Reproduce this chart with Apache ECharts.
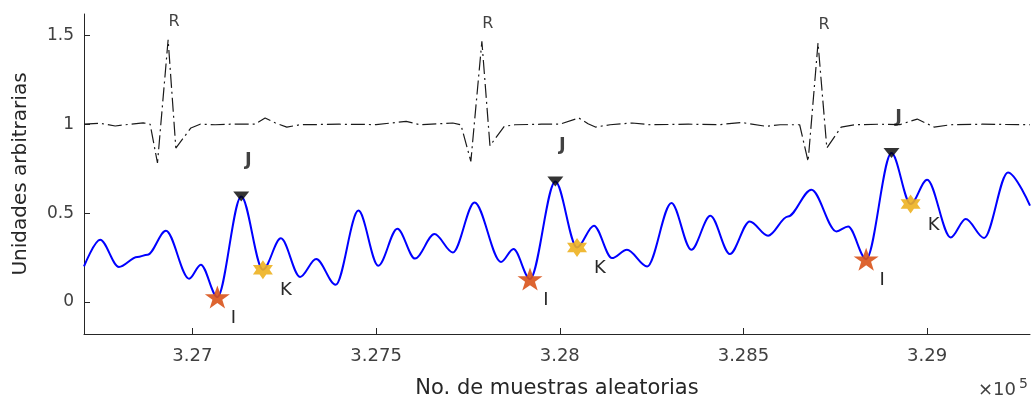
<!DOCTYPE html>
<html>
<head>
<meta charset="utf-8">
<style>
  html, body { margin: 0; padding: 0; background: #fff; }
  #chart { width: 1034px; height: 401px; }
</style>
<script src="https://cdn.jsdelivr.net/npm/echarts@6/dist/echarts.min.js"></script>
</head>
<body>
<div id="chart"></div>
<script>
(function(){
  'use strict';

  // ECG trace (dash-dot), sample index / arbitrary units
  var ecgX = [326705, 326749, 326790, 326830, 326866, 326885, 326905, 326934, 326955, 326996,
              327021, 327062, 327103, 327143, 327170, 327198, 327225, 327257, 327293, 327400,
              327500, 327582, 327620, 327709, 327731, 327758, 327788, 327810, 327849, 327878,
              327950, 328000, 328052, 328077, 328097, 328137, 328197, 328247, 328350, 328436,
              328494, 328562, 328600, 328653, 328676, 328703, 328727, 328766, 328804, 328870,
              328926, 328973, 329019, 329064, 329150, 329280];
  var ecgY = [1.0, 1.005, 0.99, 1.0, 1.008, 1.0, 0.782, 1.475, 0.866, 0.979,
              1.0, 0.997, 1.0, 1.0, 1.0, 1.035, 1.008, 0.984, 0.997, 1.0,
              0.998, 1.016, 0.997, 1.007, 0.997, 0.791, 1.466, 0.879, 0.988, 0.997,
              1.0, 1.0, 1.035, 1.003, 0.984, 0.997, 1.007, 0.997, 1.0, 0.998,
              1.010, 0.988, 0.997, 0.997, 0.791, 1.457, 0.866, 0.984, 0.997, 1.0,
              0.998, 1.029, 0.984, 0.997, 1.0, 0.997];

  // blue trace, turning points
  var bcgX = [326705, 326749, 326800, 326850, 326878, 326928, 326991, 327023, 327068, 327133,
              327192, 327241, 327293, 327337, 327390, 327452, 327506, 327558, 327606, 327659,
              327709, 327768, 327840, 327874, 327919, 327988, 328047, 328093, 328142, 328183,
              328238, 328304, 328358, 328410, 328463, 328517, 328567, 328621, 328685, 328753,
              328785, 328834, 328903, 328955, 329000, 329064, 329105, 329155, 329220, 329280];
  var bcgY = [0.200, 0.350, 0.197, 0.253, 0.266, 0.401, 0.131, 0.210, 0.028, 0.594,
              0.182, 0.358, 0.141, 0.242, 0.097, 0.514, 0.204, 0.412, 0.244, 0.382,
              0.279, 0.560, 0.225, 0.298, 0.129, 0.678, 0.307, 0.429, 0.247, 0.294,
              0.200, 0.557, 0.294, 0.485, 0.270, 0.453, 0.373, 0.481, 0.632, 0.397,
              0.425, 0.241, 0.838, 0.551, 0.688, 0.363, 0.467, 0.360, 0.729, 0.542];

  var iX = [327068, 327919, 328834], iY = [0.028, 0.129, 0.241];
  var jX = [327133, 327988, 328903], jY = [0.594, 0.678, 0.838];
  var kX = [327192, 328047, 328955], kY = [0.182, 0.307, 0.551];
  var rX = [326934, 327788, 328703], rY = [1.475, 1.466, 1.457];

  var xTicks = [327000, 327500, 328000, 328500, 329000];
  var yTicks = [0, 0.5, 1, 1.5];

  function pairs(xs, ys){ return xs.map(function(x, i){ return [x, ys[i]]; }); }

  var FONT = 'DejaVu Sans';
  var STAR5 = 'path://M50,0 L61.8,34.5 L97.6,34.5 L68.8,55.9 L79.4,90.5 L50,69.1 L20.6,90.5 L31.2,55.9 L2.4,34.5 L38.2,34.5 Z';
  var STAR6 = 'path://M50,0 L64.4,25 L93.3,25 L78.9,50 L93.3,75 L64.4,75 L50,100 L35.6,75 L6.7,75 L21.1,50 L6.7,25 L35.6,25 Z';

  function pointLabel(txt, off, bold, size){
    return { show: true, formatter: txt, position: 'inside', offset: off, color: '#111',
             fontFamily: FONT, fontSize: size || 18, fontWeight: bold ? 'bold' : 'normal' };
  }

  var chart = echarts.init(document.getElementById('chart'));
  chart.setOption({
    animation: false,
    grid: { left: 84, right: 4, top: 14, bottom: 67, outerBoundsMode: 'none' },
    xAxis: {
      type: 'value', min: 326705, max: 329280,
      name: 'No. de muestras aleatorias', nameLocation: 'middle', nameGap: 44,
      nameTextStyle: { fontFamily: FONT, fontSize: 21, color: '#262626' },
      axisLine: { show: true, onZero: false, lineStyle: { color: '#262626', width: 1 } },
      axisTick: { show: true, inside: true, length: 6, customValues: xTicks, lineStyle: { color: '#262626' } },
      axisLabel: { customValues: xTicks, margin: 13, fontFamily: FONT, fontSize: 18, color: '#404040',
                   formatter: function(v){ return String(+(v / 1e5).toFixed(3)); } },
      splitLine: { show: false }
    },
    yAxis: {
      type: 'value', min: -0.18, max: 1.62,
      name: 'Unidades arbitrarias', nameLocation: 'middle', nameGap: 53, nameRotate: 90,
      nameTextStyle: { fontFamily: FONT, fontSize: 20, color: '#262626' },
      axisLine: { show: true, onZero: false, lineStyle: { color: '#262626', width: 1 } },
      axisTick: { show: true, inside: true, length: 6, customValues: yTicks, lineStyle: { color: '#262626' } },
      axisLabel: { customValues: yTicks, margin: 10, fontFamily: FONT, fontSize: 17, color: '#404040' },
      splitLine: { show: false }
    },
    graphic: [
      { type: 'text', left: 978, top: 381, style: { text: '\u00d710', font: '18px "DejaVu Sans"', fill: '#404040' } },
      { type: 'text', left: 1019, top: 377, style: { text: '5', font: '14px "DejaVu Sans"', fill: '#404040' } }
    ],
    series: [
      { type: 'line', data: pairs(ecgX, ecgY), showSymbol: false, smooth: false,
        lineStyle: { color: '#1a1a1a', width: 1.2, type: [14, 4, 2, 4] }, z: 2 },
      { type: 'line', data: pairs(bcgX, bcgY), showSymbol: false, smooth: 0.33, smoothMonotone: 'x',
        lineStyle: { color: '#0000ff', width: 2 }, z: 3 },
      { type: 'scatter', data: pairs(iX, iY), symbol: STAR5, symbolSize: [25, 23],
        itemStyle: { color: '#d95319', opacity: 0.9 }, label: pointLabel('I', [16, 21]), z: 5 },
      { type: 'scatter', data: pairs(jX, jY), symbol: 'triangle', symbolRotate: 180, symbolSize: [16, 10],
        itemStyle: { color: '#000' }, label: pointLabel('J', [7, -36], true), z: 5 },
      { type: 'scatter', data: pairs(kX, kY), symbol: STAR6, symbolSize: [20, 19],
        itemStyle: { color: '#edb120', opacity: 0.9 }, label: pointLabel('K', [23, 21]), z: 5 },
      { type: 'scatter', data: pairs(rX, rY), symbolSize: 1, itemStyle: { color: 'rgba(0,0,0,0)' },
        label: pointLabel('R', [6, -18], false, 16), z: 5 }
    ]
  });
})();
</script>
</body>
</html>
